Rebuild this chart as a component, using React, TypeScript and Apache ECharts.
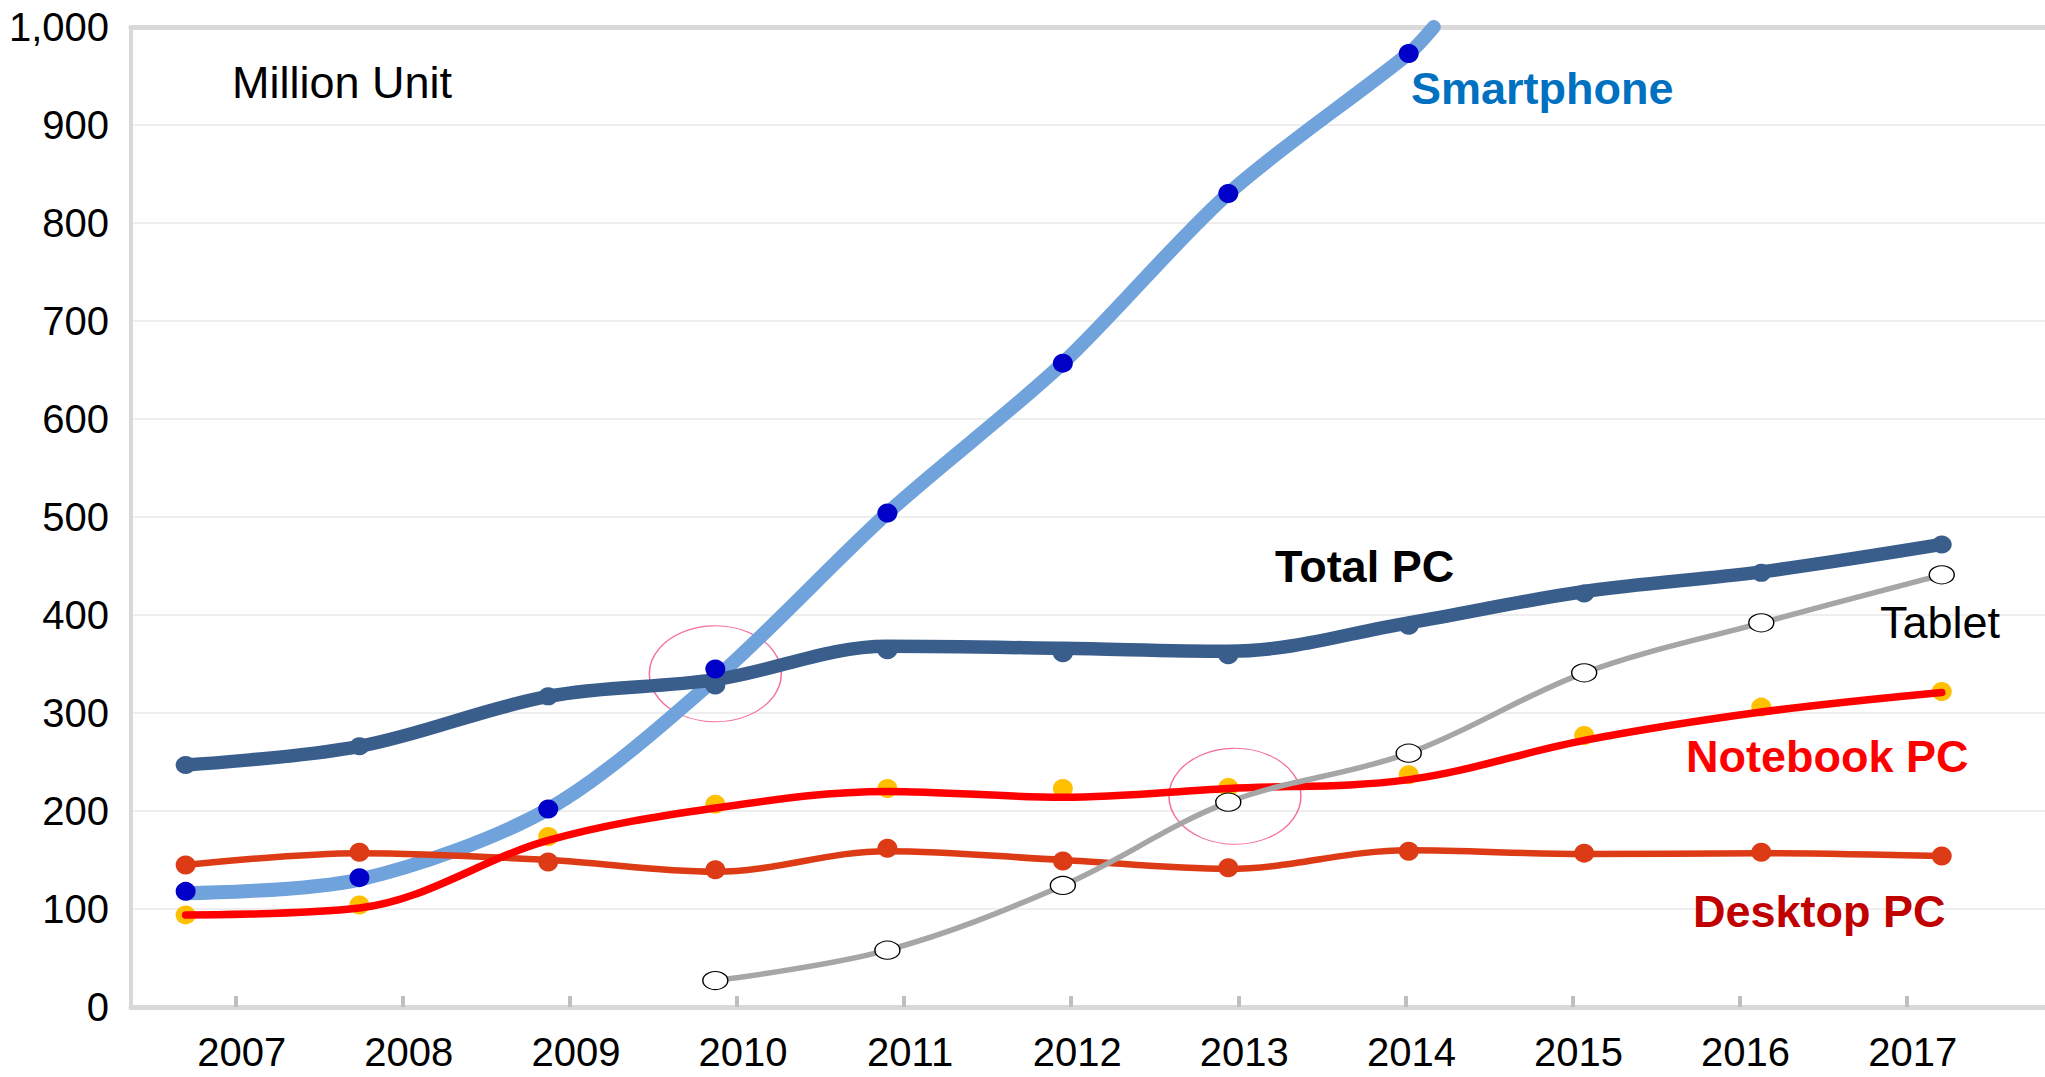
import React, { useEffect, useRef } from "react";
import * as echarts from "echarts";

// ---- data ----
const yearTicks = [2007, 2008, 2009, 2010, 2011, 2012, 2013, 2014, 2015, 2016, 2017];
// horizontal position (in years) where each year's marker sits
const pointYears = [2006.7, 2007.74, 2008.87, 2009.87, 2010.9, 2011.95, 2012.94, 2014.02, 2015.07, 2016.13, 2017.21];

const totalPcDots = [247, 266, 317, 328, 364, 361, 359, 389, 422, 443, 472];
const totalPcLine = [247, 266, 317, 334, 368, 366, 363, 392, 424, 444, 472];

const smartphoneDots = [118, 132, 202, 345, 504, 657, 830, 973];
const smartphoneLine = [116, 130, 202, 335, 504, 657, 830, 973, 1000];
const smartphoneLineEndYear = 2014.17;

const desktopDots = [145, 158, 148, 140, 162, 149, 142, 159, 157, 158, 154];
const desktopLine = [145, 157, 150, 138, 159, 150, 141, 160, 156, 157, 154];

const notebookDots = [94, 104, 174, 207, 223, 223, 224, 237, 277, 306, 322];
const notebookLine = [94, 101, 170, 203, 220, 214, 223, 232, 272, 301, 321];

const tabletFirstIndex = 3; // tablet starts in 2010
const tabletDots = [27, 58, 124, 209, 259, 341, 392, 441];
const tabletLine = [27, 58, 124, 209, 259, 341, 392, 441];

const highlightYears = [2009.87, 2012.98];
const highlightValues = [340, 215];

const FONT = '"Liberation Sans", Arial, Helvetica, sans-serif';

const zip = (xs: number[], ys: number[]) => ys.map((y, i) => [xs[i], y]);

export default function App() {
  const ref = useRef<HTMLDivElement>(null);

  useEffect(() => {
    if (!ref.current) return;
    const chart = echarts.init(ref.current, undefined, { renderer: "svg" });

    const xMin = 2006.373;
    const xMax = 2017.828;

    const tabletYears = pointYears.slice(tabletFirstIndex);
    const smartYears = pointYears.slice(0, smartphoneDots.length);
    const smartLineYears = [...smartYears, smartphoneLineEndYear];

    const lineSeries = (name: string, data: number[][], color: string, width: number, smooth = 0.35) => ({
      name,
      type: "line",
      data,
      smooth,
      showSymbol: false,
      symbol: "none",
      z: 2,
      clip: true,
      lineStyle: { color, width, cap: "round", join: "round" },
      itemStyle: { color },
      silent: true,
    });

    const dotSeries = (name: string, data: number[][], color: string, size: any, border?: string, z = 3) => ({
      name,
      type: "scatter",
      data,
      symbol: "circle",
      symbolSize: size,
      z,
      itemStyle: border
        ? { color, borderColor: border, borderWidth: 1.2, opacity: 1 }
        : { color, opacity: 1 },
      silent: true,
    });

    const label = (text: string, x: number, y: number, color: string, bold: boolean) => ({
      type: "text",
      x,
      y,
      z: 100,
      silent: true,
      style: {
        text,
        font: `${bold ? "bold " : ""}45px ${FONT}`,
        fill: color,
        textAlign: "left",
        textVerticalAlign: "middle",
        verticalAlign: "middle",
      },
    });

    chart.setOption({
      animation: false,
      backgroundColor: "#ffffff",
      grid: { left: 131, right: 0, top: 27, bottom: 70, containLabel: false },
      xAxis: [
        {
          type: "value",
          min: xMin,
          max: xMax,
          position: "bottom",
          axisLine: { show: true, onZero: false, lineStyle: { color: "#d9d9d9", width: 5 } },
          axisTick: {
            show: true,
            inside: true,
            length: 11,
            customValues: yearTicks,
            lineStyle: { color: "#bfbfbf", width: 4 },
          },
          axisLabel: {
            show: true,
            customValues: yearTicks,
            fontSize: 40,
            lineHeight: 32,
            fontFamily: FONT,
            color: "#000000",
            margin: 29,
            padding: [0, 0, 0, 12],
            formatter: (v: number) => String(Math.round(v)),
          },
          splitLine: { show: false },
        },
        {
          type: "value",
          min: xMin,
          max: xMax,
          position: "top",
          axisLine: { show: true, onZero: false, lineStyle: { color: "#d9d9d9", width: 5 } },
          axisTick: { show: false },
          axisLabel: { show: false },
          splitLine: { show: false },
        },
      ],
      yAxis: {
        type: "value",
        min: 0,
        max: 1000,
        interval: 100,
        axisLine: { show: true, lineStyle: { color: "#d9d9d9", width: 4 } },
        axisTick: { show: false },
        axisLabel: {
          fontSize: 40,
          fontFamily: FONT,
          color: "#000000",
          margin: 22,
          formatter: (v: number) => v.toLocaleString("en-US"),
        },
        splitLine: { show: true, lineStyle: { color: "#eeeeee", width: 2 } },
      },
      series: [
        {
          name: "highlight",
          type: "scatter",
          data: zip(highlightYears, highlightValues),
          symbol: "circle",
          symbolSize: [132, 96],
          z: 1,
          silent: true,
          itemStyle: { color: "rgba(0,0,0,0)", borderColor: "#f04a8a", borderWidth: 1.3 },
        },
        lineSeries("Smartphone", zip(smartLineYears, smartphoneLine), "#70a2db", 14, 0.3),
        lineSeries("Total PC", zip(pointYears, totalPcLine), "#3a5e8c", 13.5),
        lineSeries("Desktop PC", zip(pointYears, desktopLine), "#dc3b15", 6.5),
        lineSeries("Notebook PC", zip(pointYears, notebookLine), "#ff0000", 7.5),
        lineSeries("Tablet", zip(tabletYears, tabletLine), "#a6a6a6", 5.5),
        dotSeries("Total PC dots", zip(pointYears, totalPcDots), "#3a5e8c", [20, 18]),
        dotSeries("Desktop PC dots", zip(pointYears, desktopDots), "#dc3b15", [20, 19]),
        dotSeries("Notebook PC dots", zip(pointYears, notebookDots), "#ffc000", [20, 19], undefined, 1.5),
        dotSeries("Tablet dots", zip(tabletYears, tabletDots), "#ffffff", [25, 18], "#000000"),
        dotSeries("Smartphone dots", zip(smartYears, smartphoneDots), "#0000c8", [20, 19], undefined, 4),
      ],
      graphic: [
        label("Million Unit", 232, 82, "#000000", false),
        label("Smartphone", 1411, 88, "#0070c0", true),
        label("Total PC", 1275, 566, "#000000", true),
        label("Tablet", 1880, 622, "#000000", false),
        label("Notebook PC", 1686, 756, "#ff0000", true),
        label("Desktop PC", 1693, 911, "#c00000", true),
      ],
    });

    return () => chart.dispose();
  }, []);

  return (
    <div
      ref={ref}
      style={{ position: "fixed", left: 0, top: 0, width: "2045px", height: "1077px", background: "#ffffff" }}
    />
  );
}
